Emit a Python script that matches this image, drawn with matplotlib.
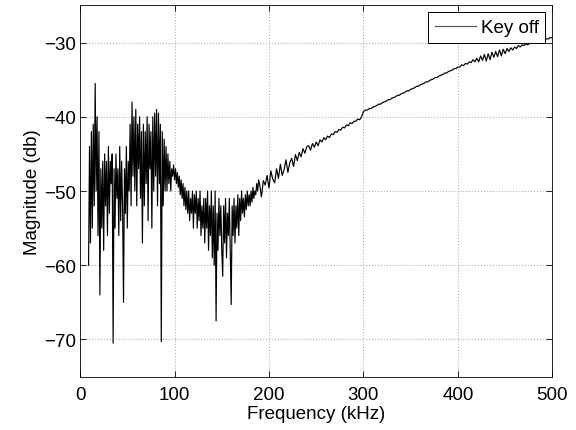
import numpy as np
import matplotlib
matplotlib.use("Agg")
import matplotlib.pyplot as plt

# Frequency grid (kHz) and magnitude (dB)
freq_low = list(range(9, 190))
mag_low = [
    -60, -44, -57, -42, -55, -41, -52, -35.5, -50, -40,
    -56, -42, -64, -47, -55, -46, -58, -45, -52, -46,
    -56, -44, -53, -46, -49, -45, -70.5, -47, -55, -45,
    -51, -47, -56, -44, -54, -46, -52, -65, -47, -53,
    -44, -55, -46, -50, -41, -52, -38, -48, -40, -50,
    -39, -52, -41, -47, -40, -51, -42, -57, -41, -52,
    -42, -49, -40, -54, -41, -47, -42, -55, -40, -50,
    -39.5, -48, -39, -52, -39.5, -49, -41, -70.3, -42, -52,
    -43, -50, -44, -50, -45, -49, -46, -50, -47, -48,
    -46.5, -48.5, -47, -49, -47.5, -49.5, -48, -50.5, -48.5, -51,
    -49, -52, -49.5, -52.5, -50, -53, -50, -54, -51, -53,
    -50, -55, -50.5, -53, -50, -55, -51, -54, -50, -56,
    -52, -55, -51, -57, -51, -55, -50, -58, -52, -56,
    -50, -59, -52, -60, -50, -67.5, -53, -58, -51, -56,
    -52, -58, -61.5, -52, -57, -51, -59, -53, -56, -51,
    -58, -65.3, -52, -56, -51, -57, -52, -55, -50.5, -56,
    -51, -54, -50, -53, -51, -53.5, -50.5, -52.5, -50, -52,
    -50.5, -52, -50, -51.5, -49.5, -51, -50, -50.5, -49, -50,
    -48.5,
]

freq_high = list(range(190, 501, 2))
mag_high = [
    -49.0, -50.8, -48.6, -49.2, -47.9, -49.6, -47.3, -48.4, -48.9, -47.0,
    -48.3, -46.4, -47.9, -47.1, -45.8, -47.5, -46.2, -45.6, -46.7, -45.1,
    -45.9, -44.8, -45.4, -44.3, -44.9, -44.0, -43.9, -44.5, -43.6, -44.1,
    -43.4, -43.9, -43.1, -43.4, -42.8, -43.1, -42.6, -42.8, -42.3, -42.4,
    -42.0, -42.1, -41.7, -41.8, -41.4, -41.5, -41.1, -41.2, -40.8, -40.9,
    -40.6, -40.6, -40.3, -40.4, -40.0, -39.3, -39.1, -39.1, -38.9, -38.9,
    -38.7, -38.6, -38.5, -38.3, -38.3, -38.1, -38.0, -37.9, -37.7, -37.7,
    -37.5, -37.4, -37.3, -37.1, -37.1, -36.9, -36.8, -36.7, -36.5, -36.5,
    -36.3, -36.2, -36.1, -35.9, -35.9, -35.7, -35.6, -35.5, -35.3, -35.3,
    -35.1, -35.0, -34.9, -34.7, -34.7, -34.5, -34.4, -34.3, -34.1, -34.1,
    -33.9, -33.8, -33.7, -33.5, -33.5, -33.3, -33.3, -33.0, -33.1, -32.8,
    -32.9, -32.6, -32.7, -32.3, -32.6, -32.1, -32.6, -31.8, -32.4, -31.6,
    -32.5, -31.5, -32.3, -31.3, -32.0, -31.2, -31.9, -31.0, -31.8, -30.9,
    -31.5, -30.8, -31.2, -30.7, -31.0, -30.6, -30.8, -30.4, -30.6, -30.3,
    -30.4, -30.2, -30.3, -30.1, -30.1, -30.0, -30.0, -29.9, -29.8, -29.8,
    -29.7, -29.6, -29.5, -29.5, -29.3, -29.4,
]

freq = np.array(freq_low + freq_high)
mag = np.array(mag_low + mag_high)

plt.rcParams['font.family'] = ['Liberation Sans', 'DejaVu Sans']
plt.rcParams['font.size'] = 13.5

fig = plt.figure(figsize=(5.76, 4.31), dpi=100)
ax = fig.add_axes([0.139, 0.124, 0.820, 0.861])

ax.plot(freq, mag, color='black', linewidth=0.85, label='Key off')

ax.set_xlim(0, 500)
ax.set_ylim(-75, -25)
ax.set_xticks([0, 100, 200, 300, 400, 500])
ax.set_yticks([-70, -60, -50, -40, -30])
ax.set_xlabel("Frequency (kHz)", labelpad=1)
ax.set_ylabel("Magnitude (db)", labelpad=2)
ax.grid(True, color='#b0b0b0', linestyle=':', linewidth=0.8)
ax.tick_params(direction='in', top=True, right=True, length=4, width=0.6)
ax.tick_params(axis='x', pad=7)
ax.tick_params(axis='y', pad=3)
for s in ax.spines.values():
    s.set_linewidth(0.6)

leg = ax.legend(loc='upper right', fancybox=False, framealpha=1,
                edgecolor='black', borderaxespad=0.37, handlelength=2.2,
                borderpad=0.35, handletextpad=0.25)
leg.get_frame().set_linewidth(0.7)
leg.get_lines()[0].set_color('#555555')

fig.savefig("out.png", dpi=100)
